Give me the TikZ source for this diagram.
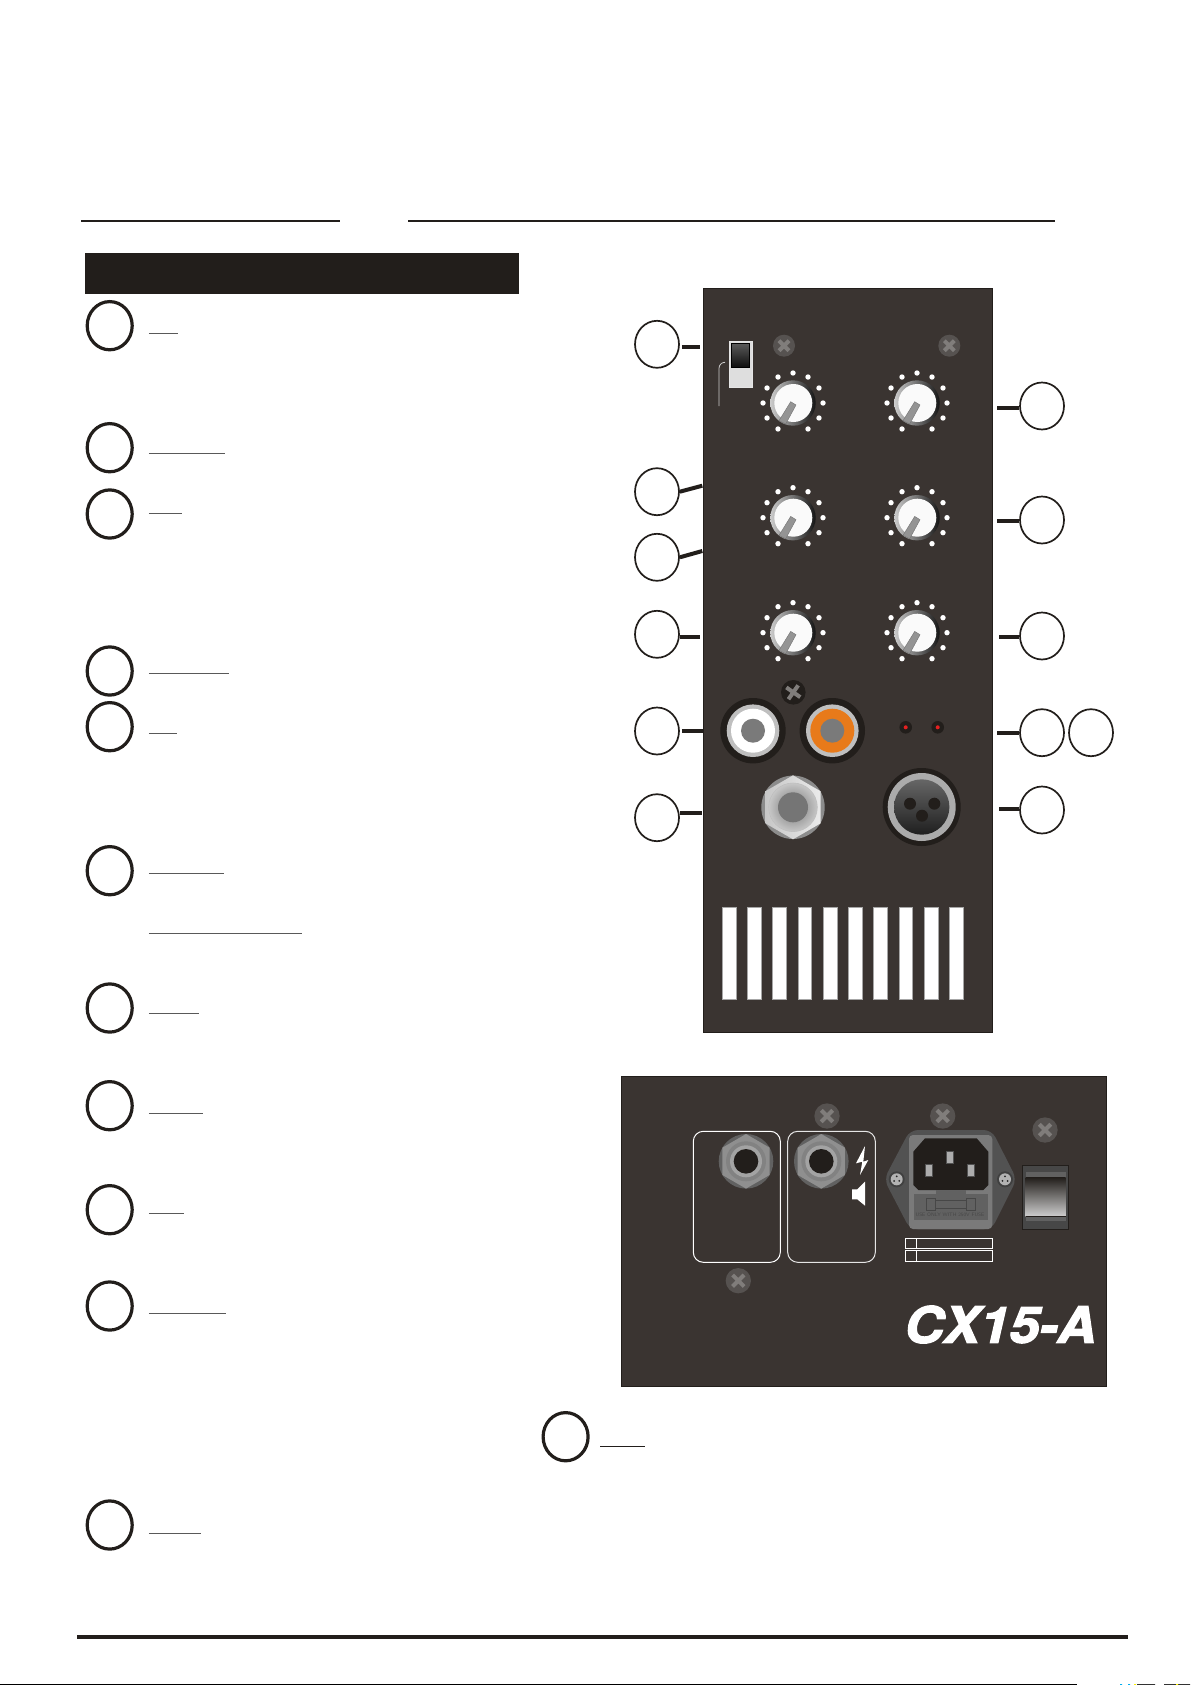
\documentclass[tikz,border=0pt]{standalone}
\usepackage{fontspec}
\usepackage{tikz}
\usetikzlibrary{calc,positioning,shapes.geometric}
\newfontfamily\logofont[FakeBold=2.5,FakeStretch=1.08]{TeX Gyre Heros}
\definecolor{panelgrey}{HTML}{3A3431}
\definecolor{inkblack}{HTML}{221E1B}
\definecolor{screwgrey}{HTML}{565250}
\definecolor{crossgrey}{HTML}{807D7B}
\definecolor{rcaorange}{HTML}{E87A1A}
\definecolor{ledred}{HTML}{E62020}
\tikzset{
    x=0.5pt, y=-0.5pt,
    callout/.style={ellipse, draw=inkblack, fill=white, line width=0.85pt, inner sep=0pt, minimum width=22pt, minimum height=23.5pt},
    bigcallout/.style={ellipse, draw=inkblack, fill=white, line width=1.6pt, inner sep=0pt, minimum width=22.5pt, minimum height=24.1pt},
    stub/.style={draw=inkblack, line width=2pt},
    underrule/.style={draw=black!65, line width=0.55pt},
    toprule/.style={draw=inkblack, line width=1pt},
    panel/.style={fill=panelgrey, draw=inkblack, line width=0.4pt},
    slot/.style={fill=white, draw=black!35, line width=0.4pt},
    knob/.pic={
        \foreach \a in {-90,-60,-30,0,30,60,120,150,180,210,240}
            \fill[white] (\a:30) circle [radius=2.7];
        \shade[left color=black!20, right color=black!92] (0,0) circle [radius=22.7];
        \fill[white!98!black] (0.3,0) circle [radius=19];
        \fill[black!42, draw=black!55, line width=0.2pt] (-2.3,-1.3) -- (3,2) -- (-7.3,21) -- (-14,17.7) -- cycle;
    },
    screw/.pic={
        \fill[screwgrey] (0,0) circle [radius=11];
        \draw[crossgrey, line width=2pt] (-5,-5) -- (5,5) (-5,5) -- (5,-5);
    },
    rearjack/.pic={
        \fill[black!62] (0,0) circle [radius=27.3];
        \fill[black!44] (90:27.3) -- (150:27.3) -- (210:27.3) -- (270:27.3) -- (330:27.3) -- (30:27.3) -- cycle;
        \fill[black!49] (0,0) circle [radius=20];
        \fill[black!36] (0,0) circle [radius=16];
        \fill[inkblack] (0,0) circle [radius=12.3];
    },
    contact/.style={fill=black!32, draw=black!68, line width=0.5pt},
    fusescrew/.pic={
        \fill[black!75] (0,0) circle [radius=8];
        \fill[black!30] (0,0) circle [radius=6];
        \fill[black!85] (0,-3) circle [radius=1] (-2.6,1.6) circle [radius=1] (2.6,1.6) circle [radius=1];
    },
}
\begin{document}
\begin{tikzpicture}
        \useasboundingbox (0,0) rectangle (1192,1685);

        \draw[toprule] (81,220.7) -- (340,220.7);
        \draw[toprule] (408,220.7) -- (1054.5,220.7);
        \fill[inkblack] (85,253) rectangle (519,294);
        \fill[inkblack] (77,1635) rectangle (1128,1639);
        \fill[black] (0,1684) rectangle (1077,1685);
        \fill[black!80] (1137,1684) rectangle (1155,1685) (1164,1684) rectangle (1190,1685);
        \fill[cyan] (1120,1684) rectangle (1122,1685) (1128,1684) rectangle (1130,1685);
        \fill[yellow] (1134,1684) rectangle (1136,1685) (1176,1684) rectangle (1178,1685);

        \node[bigcallout] (item1) at (109.7,325.7) {};
        \node[bigcallout] (item2) at (109.7,447.7) {};
        \node[bigcallout] (item3) at (109.7,514) {};
        \node[bigcallout] (item4) at (109.7,671) {};
        \node[bigcallout] (item5) at (109.7,726.7) {};
        \node[bigcallout] (item6) at (109.7,870.7) {};
        \node[bigcallout] (item7) at (109.7,1008) {};
        \node[bigcallout] (item8) at (109.7,1105.7) {};
        \node[bigcallout] (item9) at (109.7,1209.7) {};
        \node[bigcallout] (item10) at (109.7,1306) {};
        \node[bigcallout] (item11) at (109.7,1525) {};
        \node[bigcallout] (item12) at (565.6,1436.7) {};

        \foreach \yy/\xend in {333.3/178, 453.3/225, 513.3/182, 673.3/229.3, 733.3/177.3, 873.3/224.3, 933.3/302.3, 1013.3/199.3, 1113.3/203, 1213.3/184, 1313.3/225.8, 1533.3/200.5}
            \draw[underrule] (148.8,\yy) -- (\xend,\yy);
        \draw[draw=inkblack, line width=0.55pt] (600,1446.5) -- (645,1446.5);

        \fill[panel] (703,288) rectangle (992.7,1032.7);

        \node[callout] (top) at (657,344.3) {};
        \node[callout] (level) at (657,491.7) {};
        \node[callout] (tone) at (657,557.3) {};
        \node[callout] (bass) at (657,634.3) {};
        \node[callout] (rca) at (657,731) {};
        \node[callout] (line) at (657,817.7) {};
        \node[callout] (mic) at (1042,406) {};
        \node[callout] (mid) at (1042,520) {};
        \node[callout] (high) at (1042,636) {};
        \node[callout] (led) at (1042,732.7) {};
        \node[callout] (peak) at (1091,732.7) {};
        \node[callout] (xlr) at (1042,810) {};

        \coordinate (topend) at (700,346.7);
        \coordinate (levelend) at (702.3,485.7);
        \coordinate (toneend) at (702.3,551);
        \coordinate (bassend) at (700,637);
        \coordinate (rcaend) at (703,730.7);
        \coordinate (lineend) at (702,813);
        \coordinate (micend) at (997,407.7);
        \coordinate (midend) at (997,520.7);
        \coordinate (highend) at (999,636.7);
        \coordinate (ledend) at (997,732.7);
        \coordinate (xlrend) at (999,809);

        \draw[stub, shorten <=1pt] (top.east |- topend) -- (topend);
        \draw[stub] (level.east) -- (levelend);
        \draw[stub] (tone.east) -- (toneend);
        \draw[stub] (bass.east |- bassend) -- (bassend);
        \draw[stub, shorten <=1pt] (rca.east |- rcaend) -- (rcaend);
        \draw[stub] (line.east |- lineend) -- (lineend);
        \draw[stub] (mic.west |- micend) -- (micend);
        \draw[stub] (mid.west |- midend) -- (midend);
        \draw[stub] (high.west |- highend) -- (highend);
        \draw[stub] (led.west |- ledend) -- (ledend);
        \draw[stub] (xlr.west |- xlrend) -- (xlrend);

        \pic at (784,345.7) {screw};
        \pic at (949.3,345.7) {screw};

        \draw[fill=black!13, draw=white!90!black, line width=0.5pt] (729.7,341.7) rectangle (752.3,387.7);
        \shade[top color=black!65, bottom color=black!95, draw=black, line width=0.5pt] (731.3,343.3) rectangle (749.7,367.7);
        \draw[black!20, line width=0.4pt, rounded corners=3pt] (719,406) -- (719,362.3) -- (724.7,362.3);

        \foreach \xx in {793,917}
            \foreach \yy in {403,517.7,632.7}
                \pic at (\xx,\yy) {knob};

        \fill[inkblack] (793.3,692.3) circle [radius=12.3];
        \draw[crossgrey, line width=2pt, rotate around={10:(793.3,692.3)}] (787.3,686.3) -- (799.3,698.3) (787.3,698.3) -- (799.3,686.3);

        \fill[inkblack] (753,730.7) circle [radius=32.7];
        \fill[black!25] (753,730.7) circle [radius=26.3];
        \fill[white] (753,730.7) circle [radius=22];
        \fill[black!52] (753,730.7) circle [radius=12];
        \fill[inkblack] (832.3,730.7) circle [radius=32.7];
        \fill[black!25] (832.3,730.7) circle [radius=26.3];
        \fill[rcaorange] (832.3,730.7) circle [radius=22];
        \fill[black!52] (832.3,730.7) circle [radius=12];

        \fill[inkblack] (905.7,727.3) circle [radius=6.3];
        \fill[ledred] (905.7,727.3) circle [radius=2];
        \fill[inkblack] (937.7,727.3) circle [radius=6.3];
        \fill[ledred] (937.7,727.3) circle [radius=2];

        \begin{scope}[shift={(793,807.3)}]
            \fill[black!45] (0,0) circle [radius=31.7];
            \shade[left color=black!22, right color=black!8] (90:32) -- (150:32) -- (210:32) -- (270:32) -- (330:32) -- (30:32) -- cycle;
            \shade[inner color=black!55, outer color=black!22, draw=black!25, line width=0.3pt] (0,0) circle [radius=24.3];
            \fill[black!54] (0,0) circle [radius=15];
        \end{scope}

        \begin{scope}[shift={(921.7,807)}]
            \fill[inkblack] (0,0) circle [radius=39];
            \fill[black!33] (0,0) circle [radius=34];
            \shade[top color=black!60, bottom color=black!88] (0,0) circle [radius=27.7];
            \fill[inkblack] (-11.7,-3.3) circle [radius=6] (12.6,-3.3) circle [radius=6] (0.3,8.7) circle [radius=6];
        \end{scope}

        \foreach \xx/\ww in {722/14.7, 747/14.7, 772/14.7, 798/13.7, 823/14.7, 848/14.7, 873/14.7, 899/13.7, 924/14.7, 949/14.7}
            \draw[slot] (\xx,907.3) rectangle ++(\ww,92.4);

        \fill[panel] (621,1076) rectangle (1106.7,1386.7);

        \draw[white, line width=0.5pt, rounded corners=5pt] (693.3,1131.3) rectangle (780.3,1262.3);
        \draw[white!90!black, line width=0.5pt, rounded corners=5pt] (787.7,1131.3) rectangle (875.3,1262.3);
        \pic at (746,1161.3) {rearjack};
        \pic at (821.3,1161.3) {rearjack};
        \fill[white] (865,1146) -- (856,1163.3) -- (862.3,1161.7) -- (860,1175) -- (868.3,1160) -- (863.3,1161.7) -- cycle;
        \fill[white] (852,1189.3) -- (857.3,1189.3) -- (865,1181.7) -- (865,1205.7) -- (857.3,1199.3) -- (852,1199.3) -- cycle;

        \pic[scale=1.15] at (827,1116) {screw};
        \pic[scale=1.15] at (942.7,1116) {screw};
        \pic[scale=1.15] at (1045,1130) {screw};
        \pic[scale=1.15] at (738.3,1280.7) {screw};

        \fill[black!68, rounded corners=4pt] (884,1179.3) -- (910,1130) -- (991.7,1130) -- (1016.7,1179.3) -- (991.7,1229.3) -- (910,1229.3) -- cycle;
        \fill[black!52, rounded corners=2pt] (909,1135) rectangle (992.3,1229);
        \fill[inkblack] (925,1138.3) -- (976.7,1138.3) -- (988.3,1151.7) -- (988.3,1185) -- (983.3,1190) -- (918.3,1190) -- (913.3,1185) -- (913.3,1151.7) -- cycle;
        \draw[contact] (946.7,1151.7) rectangle (953.3,1163.7);
        \draw[contact] (925.7,1164) rectangle (932.3,1176);
        \draw[contact] (967.7,1164) rectangle (974.3,1176);
        \fill[black!62] (936,1190) rectangle (965.7,1194);
        \fill[black!62] (914,1194) rectangle (987.7,1220);
        \draw[black!72, line width=0.5pt] (926.7,1198) rectangle (935.3,1210) (966,1198) rectangle (975,1210) (935.3,1200) rectangle (966,1208);
        \node[text=black!72, font=\sffamily\fontsize{2.5}{3}\selectfont, inner sep=0pt] (fuselabel) at (950,1215) {USE ONLY WITH 250V FUSE};
        \pic at (896.7,1179.3) {fusescrew};
        \pic at (1005,1179.3) {fusescrew};

        \draw[white, line width=0.5pt] (905.3,1238.3) rectangle (992.7,1248.7) (916.7,1238.3) -- (916.7,1248.7);
        \draw[white, line width=0.5pt] (905.3,1250.3) rectangle (992.7,1261.3) (916.7,1250.3) -- (916.7,1261.3);

        \draw[fill=black!72, draw=inkblack, line width=0.5pt] (1022.3,1165.3) rectangle (1068.7,1229.3);
        \fill[black!62] (1025.7,1172.3) rectangle (1065.7,1221.3);
        \shade[top color=inkblack, bottom color=black!20] (1025.7,1177.3) rectangle (1065.7,1216);
        \draw[inkblack, line width=0.5pt] (1025.7,1216.3) -- (1065.7,1216.3);

        \node[text=white, font=\logofont\bfseries\itshape\fontsize{25}{25}\selectfont, inner sep=0pt] (modelname) at (1000.5,1324.5) {CX15-A};

    \end{tikzpicture}
\end{document}
